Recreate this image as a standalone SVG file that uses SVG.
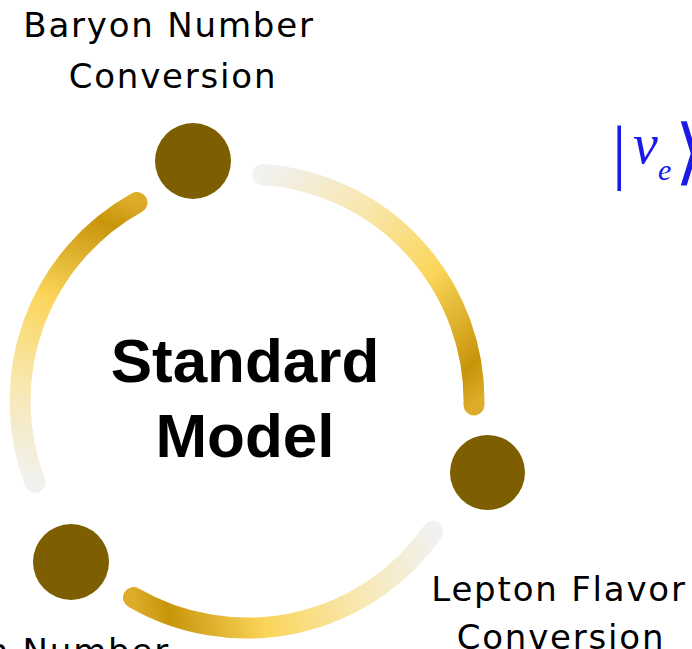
<svg xmlns="http://www.w3.org/2000/svg" width="692" height="649" viewBox="0 0 692 649">
  <defs>
    <linearGradient id="gTR" gradientUnits="userSpaceOnUse" x1="262.8" y1="174.5" x2="474" y2="405">
      <stop offset="0" stop-color="#f1f1ef"/>
      <stop offset="0.3" stop-color="#f8e7ae"/>
      <stop offset="0.6" stop-color="#fbd55a"/>
      <stop offset="0.9" stop-color="#c8950a"/>
      <stop offset="1" stop-color="#ddac28"/>
    </linearGradient>
    <linearGradient id="gB" gradientUnits="userSpaceOnUse" x1="433" y1="531.2" x2="133.5" y2="597.6">
      <stop offset="0" stop-color="#f1f1ef"/>
      <stop offset="0.3" stop-color="#f8e7ae"/>
      <stop offset="0.6" stop-color="#fbd55a"/>
      <stop offset="0.9" stop-color="#c8950a"/>
      <stop offset="1" stop-color="#ddac28"/>
    </linearGradient>
    <linearGradient id="gL" gradientUnits="userSpaceOnUse" x1="35.1" y1="482.4" x2="137" y2="202.5">
      <stop offset="0" stop-color="#f1f1ef"/>
      <stop offset="0.3" stop-color="#f8e7ae"/>
      <stop offset="0.6" stop-color="#fbd55a"/>
      <stop offset="0.9" stop-color="#c8950a"/>
      <stop offset="1" stop-color="#ddac28"/>
    </linearGradient>
  </defs>
  <style>
    .arc { fill: none; stroke-width: 21; stroke-linecap: round; }
    .dot { fill: #7d5e00; }
    .lbl { font-family: "DejaVu Sans", sans-serif; font-size: 34px; fill: #000; letter-spacing: 1.8px; text-anchor: middle; }
    .sm { font-family: "Liberation Sans", Arial, sans-serif; font-weight: bold; font-size: 62px; fill: #000; text-anchor: middle; }
    .ket { font-family: "Liberation Serif", "Times New Roman", serif; fill: #1a1ae8; }
  </style>
  <rect width="692" height="649" fill="#ffffff"/>
  <g id="connectors">
    <path class="arc" stroke="url(#gTR)" d="M262.8,174.5 A227,227 0 0 1 474,405"/>
    <path class="arc" stroke="url(#gB)" d="M433,531.2 A227,227 0 0 1 133.5,597.6"/>
    <path class="arc" stroke="url(#gL)" d="M35.1,482.4 A227,227 0 0 1 137,202.5"/>
  </g>
  <g id="center">
    <text class="sm" x="245" y="382">Standard</text>
    <text class="sm" x="245" y="457">Model</text>
  </g>
  <g id="baryon">
    <circle class="dot" cx="193" cy="161" r="38"/>
    <text class="lbl" x="169" y="37">Baryon Number</text>
    <text class="lbl" x="173" y="88">Conversion</text>
  </g>
  <g id="lepton-flavor">
    <circle class="dot" cx="487.5" cy="472.5" r="37.5"/>
    <text class="lbl" x="559" y="601">Lepton Flavor</text>
    <text class="lbl" x="561" y="649">Conversion</text>
  </g>
  <g id="lepton-number">
    <circle class="dot" cx="71" cy="562" r="38"/>
    <text class="lbl" x="170" y="663" style="text-anchor:end">Lepton Number</text>
  </g>
  <g id="ket">
    <text class="ket" x="612" y="176" font-size="72">|</text>
    <text class="ket" x="633" y="163" font-size="56" font-style="italic">ν</text>
    <text class="ket" x="658" y="180" font-size="30" font-style="italic">e</text>
    <text class="ket" x="675" y="176" font-size="72">⟩</text>
  </g>
</svg>
